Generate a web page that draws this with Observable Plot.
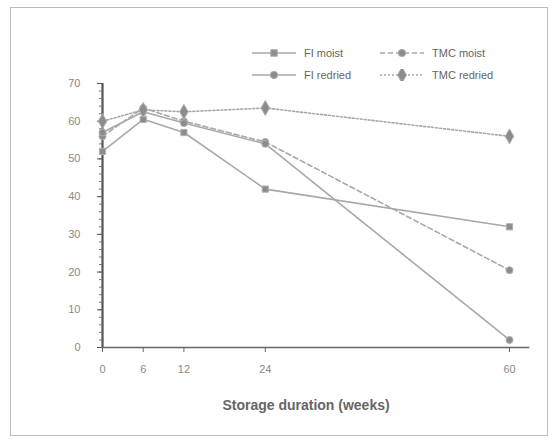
<!DOCTYPE html>
<html><head><meta charset="utf-8">
<script src="https://cdn.jsdelivr.net/npm/d3@7"></script>
<script src="https://cdn.jsdelivr.net/npm/@observablehq/plot@0.6"></script>
<style>
body{margin:0;background:#fff;font-family:"Liberation Sans",Arial,sans-serif;}
#wrap{position:relative;width:557px;height:444px;}
#frame{position:absolute;left:10px;top:7px;width:538px;height:429px;border:1px solid #bbb;box-sizing:border-box;pointer-events:none;}
#legend{position:absolute;left:250px;top:42px;font-size:11px;color:#666;}
.row{display:flex;align-items:center;height:22px;}
.item{display:flex;align-items:center;width:128px;}
.item svg{margin-right:6px;}
</style></head>
<body><div id="wrap"><div id="frame"></div><div id="legend"></div></div>
<script>
const weeks = [0, 6, 12, 24, 60];
const fiMoist = [52, 60.5, 57, 42, 32];
const fiRedried = [57, 62.5, 59.5, 54, 2];
const tmcMoist = [56, 63.5, 60, 54.5, 20.5];
const tmcRedried = [60, 63, 62.5, 63.5, 56];
const seriesNames = ["FI moist", "TMC moist", "FI redried", "TMC redried"];
const yTicks = [0, 10, 20, 30, 40, 50, 60, 70];
const yMinorTicks = d3.range(0, 70, 2);

const styles = {
  "FI moist": {dash: null, symbol: "square", r: 3.5},
  "TMC moist": {dash: "5,3", symbol: "circle", r: 3.5},
  "FI redried": {dash: null, symbol: "circle", r: 3.5},
  "TMC redried": {dash: "2,2", symbol: "diamond", r: 4.5}
};
const valuesBy = {"FI moist": fiMoist, "TMC moist": tmcMoist, "FI redried": fiRedried, "TMC redried": tmcRedried};
const rows = seriesNames.flatMap(s => weeks.map((w, i) => ({series: s, week: w, value: valuesBy[s][i]})));

const lineCol = "#a8a8a8", markCol = "#8c8c8c";
const marks = [];
for (const s of seriesNames) {
  const d = rows.filter(r => r.series === s);
  marks.push(Plot.line(d, {x: "week", y: "value", stroke: lineCol, strokeWidth: 1.6, strokeDasharray: styles[s].dash}));
  marks.push(Plot.dot(d, {x: "week", y: "value", symbol: () => styles[s].symbol, r: styles[s].r, fill: markCol, stroke: "#b0b0b0", strokeWidth: 1}));
}

const plot = Plot.plot({
  width: 557, height: 444,
  marginLeft: 102, marginRight: 48, marginTop: 83, marginBottom: 97,
  style: {fontFamily: "Liberation Sans, Arial, sans-serif", background: "transparent", color: "#777"},
  x: {type: "linear", domain: [0, 60], ticks: weeks, label: null},
  y: {type: "linear", domain: [0, 70], ticks: yTicks, label: null},
  marks: [
    Plot.ruleX([0], {y1: 0, y2: 70, stroke: "#555", strokeWidth: 2.2}),
    Plot.ruleY([0], {x1: 0, x2: 63, stroke: "#666", strokeWidth: 1.6}),
    Plot.axisY({ticks: yMinorTicks, tickSize: 3, text: null, label: null, stroke: "#777"}),
    Plot.axisY({ticks: yTicks, tickSize: 5, tickPadding: 17, fontSize: 11, stroke: "#555", fill: "#888", tickFormat: d3.format("d"), label: null}),
    Plot.axisX({ticks: weeks, tickSize: 5, tickPadding: 13, fontSize: 11, stroke: "#666", fill: "#888", label: null}),
    ...marks,
    Plot.text(["Storage duration (weeks)"], {frameAnchor: "bottom", dy: 62, fontSize: 14, fontWeight: "bold", fill: "#666"})
  ]
});
document.getElementById("wrap").prepend(plot);

// legend
const leg = document.getElementById("legend");
const order = [["FI moist", "TMC moist"], ["FI redried", "TMC redried"]];
for (const pair of order) {
  const row = document.createElement("div"); row.className = "row";
  for (const s of pair) {
    const it = document.createElement("div"); it.className = "item";
    const st = styles[s];
    const sym = d3.symbol(st.symbol === "square" ? d3.symbolSquare : st.symbol === "diamond" ? d3.symbolDiamond : d3.symbolCircle, st.r * st.r * 3.5)();
    it.innerHTML = `<svg width="48" height="12"><line x1="2" x2="46" y1="6" y2="6" stroke="${lineCol}" stroke-width="1.6" ${st.dash ? `stroke-dasharray="${st.dash}"` : ""}/><path d="${sym}" transform="translate(24,6)" fill="${markCol}" stroke="#b0b0b0"/></svg><span>${s}</span>`;
    row.appendChild(it);
  }
  leg.appendChild(row);
}
</script></body></html>
